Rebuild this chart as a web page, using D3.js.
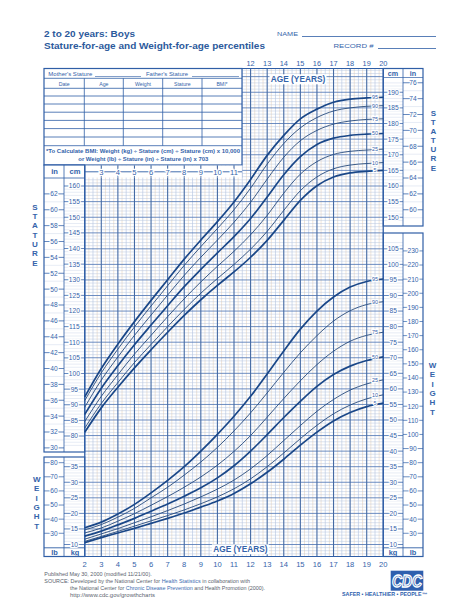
<!DOCTYPE html>
<html><head><meta charset="utf-8">
<script src="https://cdn.jsdelivr.net/npm/d3@7"></script>
<style>
html,body{margin:0;padding:0;background:#fff;}
svg{display:block;font-family:"Liberation Sans",Arial,Helvetica,sans-serif;}
</style></head><body>
<svg id="c" width="474" height="613"></svg>
<script>
// ---------------- DATA ----------------
const ages = [2,3,4,5,6,7,8,9,10,11,12,13,14,15,16,17,18,19,20];
const percentiles = [5,10,25,50,75,90,95];
// Stature-for-age (cm)
const statureP5  = [81.2,89.0,95.6,101.8,107.6,113.2,118.6,123.6,128.2,132.5,137.2,142.6,149.0,155.4,160.1,162.9,164.2,164.7,165.0];
const statureP10 = [82.5,90.4,97.1,103.5,109.3,115.0,120.5,125.7,130.4,134.9,139.8,145.5,152.2,158.5,162.9,165.5,166.7,167.2,167.5];
const statureP25 = [84.6,92.7,99.6,106.2,112.2,118.2,123.9,129.3,134.3,139.1,144.4,150.6,157.7,163.8,167.8,170.1,171.1,171.5,171.8];
const statureP50 = [86.9,95.3,102.5,109.2,115.5,121.7,127.8,133.3,138.6,143.8,149.6,156.5,163.6,169.4,173.3,175.3,176.2,176.6,176.8];
const statureP75 = [89.2,97.9,105.3,112.2,118.7,125.1,131.4,137.2,142.7,148.4,154.8,162.2,169.2,174.5,177.8,179.8,180.8,181.3,181.5];
const statureP90 = [91.3,100.2,107.8,114.9,121.6,128.1,134.6,140.6,146.4,152.4,159.3,167.0,173.6,178.6,181.9,184.0,185.0,185.5,185.7];
const statureP95 = [92.5,101.6,109.4,116.6,123.4,130.0,136.6,142.7,148.6,154.9,162.1,169.8,176.2,181.5,184.6,186.8,187.8,188.2,188.4];
// Weight-for-age (kg)
const weightP5  = [10.6,12.2,13.7,15.2,16.8,18.4,20.1,22.0,24.0,26.4,29.5,33.2,37.4,41.9,46.1,49.7,52.4,54.3,55.4];
const weightP10 = [11.0,12.6,14.2,15.9,17.6,19.3,21.1,23.1,25.3,27.9,31.1,35.0,39.4,44.0,48.3,52.0,54.8,56.8,58.1];
const weightP25 = [11.7,13.4,15.1,17.0,18.9,20.9,23.0,25.3,27.8,30.7,34.3,38.6,43.4,48.2,52.8,56.6,59.6,61.6,62.9];
const weightP50 = [12.7,14.3,16.3,18.4,20.7,23.0,25.5,28.2,31.4,35.3,40.0,45.3,50.8,56.0,60.8,64.6,67.3,69.1,70.3];
const weightP75 = [13.7,15.3,17.5,19.9,22.6,25.4,28.4,31.7,35.5,39.9,45.0,50.9,56.9,62.6,67.8,72.1,75.3,77.2,78.2];
const weightP90 = [14.7,16.4,18.8,21.6,25.0,28.4,32.3,36.5,41.2,46.5,52.3,58.7,65.3,71.6,77.1,81.8,85.1,87.1,88.0];
const weightP95 = [15.4,17.2,19.8,22.9,26.6,30.6,35.0,40.0,45.4,51.2,57.6,64.8,72.2,79.2,85.0,89.5,92.7,94.5,95.3];
// Tick labels
const topAgeTicks = [12,13,14,15,16,17,18,19,20];
const midAgeTicks = [3,4,5,6,7,8,9,10,11];
const bottomAgeTicks = [2,3,4,5,6,7,8,9,10,11,12,13,14,15,16,17,18,19,20];
const statCmLeft = [80,85,90,95,100,105,110,115,120,125,130,135,140,145,150,155,160];
const statInLeft = [30,32,34,36,38,40,42,44,46,48,50,52,54,56,58,60,62];
const statCmRight = [150,155,160,165,170,175,180,185,190];
const statInRight = [60,62,64,66,68,70,72,74,76];
const wtKgLeft = [10,15,20,25,30,35];
const wtLbLeft = [30,40,50,60,70,80];
const wtKgRight = [10,15,20,25,30,35,40,45,50,55,60,65,70,75,80,85,90,95,100,105];
const wtLbRight = [30,40,50,60,70,80,90,100,110,120,130,140,150,160,170,180,190,200,210,220,230];
const tableCols = ["Date","Age","Weight","Stature","BMI*"];

// ---------------- SETUP ----------------
const svg = d3.select('#c');
const BLUE = '#2f5ea6', TXT = '#3463aa';
const X0 = 84.7, X1 = 383.3, YT = 68.5, YB = 556.5;
const x = d3.scaleLinear().domain([2,20]).range([X0, X1]);
const yCm = d3.scaleLinear().domain([80,160]).range([436,186]);
const yKg = d3.scaleLinear().domain([10,50]).range([544.5,420]);
const yIn = v => yCm(v*2.54);
const yLb = v => yKg(v*0.45359237);

svg.append('defs').append('clipPath').attr('id','gclip')
  .append('rect').attr('x',X0).attr('y',YT).attr('width',X1-X0).attr('height',YB-YT);

// ---------------- GRID ----------------
const grid = svg.append('g').attr('clip-path','url(#gclip)');
function hline(g,y,xa,xb,c,w){g.append('line').attr('x1',xa).attr('x2',xb).attr('y1',y).attr('y2',y).attr('stroke',c).attr('stroke-width',w);}
function vline(g,xx,ya,yb,c,w){g.append('line').attr('x1',xx).attr('x2',xx).attr('y1',ya).attr('y2',yb).attr('stroke',c).attr('stroke-width',w);}
// minor verticals
d3.range(2,20,0.25).forEach(a=>{ const f=a%1; if(f) vline(grid,x(a),YT,YB,f===0.5?'#a8bbdc':'#e6cfb8',0.55); });
// minor horizontals
d3.range(143,198).forEach(v=>{ if(v%5) hline(grid,yCm(v),X0,X1,'#b8c6de',0.5); });
d3.range(7,108).forEach(v=>{ if(v%5) hline(grid,yKg(v),X0,X1,'#b8c6de',0.5); });
// major horizontals
d3.range(145,198,5).forEach(v=>hline(grid,yCm(v),X0,X1,'#5379b6',0.85));
d3.range(10,108,5).forEach(v=>hline(grid,yKg(v),X0,X1,'#5379b6',0.85));
// major verticals
d3.range(2,21,1).forEach(a=>vline(grid,x(a),YT,YB,'#456aa3',1.1));

// ---------------- TABLE ----------------
const tb = svg.append('g');
tb.append('rect').attr('x',44).attr('y',YT).attr('width',242-44).attr('height',165-YT).attr('fill','#fff').attr('stroke',BLUE).attr('stroke-width',1.2);
hline(tb,78.3,44,242,BLUE,0.8);
hline(tb,88.3,44,242,BLUE,0.8);
[96,104,112.2,120.4,128.6,137,145.7].forEach(y=>hline(tb,y,44,242,BLUE,0.8));
const colX=[44,84.3,123.3,162.7,202,242];
[84.3,123.3,162.7,202].forEach(xx=>vline(tb,xx,78.3,145.7,BLUE,0.8));
tableCols.forEach((t,i)=>tb.append('text').attr('x',(colX[i]+colX[i+1])/2).attr('y',85.8).attr('text-anchor','middle').attr('font-size',5.2).attr('fill',TXT).text(t));
tb.append('text').attr('x',48.3).attr('y',76.4).attr('font-size',5.2).attr('fill',TXT).attr('textLength',44).attr('lengthAdjust','spacingAndGlyphs').text("Mother's Stature");
hline(tb,76.5,95,141,BLUE,0.6);
tb.append('text').attr('x',146).attr('y',76.4).attr('font-size',5.2).attr('fill',TXT).attr('textLength',42).attr('lengthAdjust','spacingAndGlyphs').text("Father's Stature");
hline(tb,76.5,192,239,BLUE,0.6);
tb.append('text').attr('x',46).attr('y',152.6).attr('font-size',5.3).attr('font-weight','bold').attr('fill',TXT).attr('textLength',194).attr('lengthAdjust','spacingAndGlyphs').text("*To Calculate BMI: Weight (kg) \u00f7 Stature (cm) \u00f7 Stature (cm) x 10,000");
tb.append('text').attr('x',78.3).attr('y',161).attr('font-size',5.3).attr('font-weight','bold').attr('fill',TXT).attr('textLength',130).attr('lengthAdjust','spacingAndGlyphs').text("or Weight (lb) \u00f7 Stature (in) \u00f7 Stature (in) x 703");

// mid age row (3..11) on white band
svg.append('rect').attr('x',X0).attr('y',165.6).attr('width',242-X0).attr('height',12).attr('fill','#fff');
d3.range(2,12,1).forEach(a=>vline(svg,x(a),165.6,177.6,'#456aa3',1.1));
vline(svg,x(11.5),165.6,177.6,'#a8bbdc',0.55);
hline(svg,171.8,X0,242,BLUE,0.9);
midAgeTicks.forEach(a=>svg.append('text').attr('x',x(a)).attr('y',171.8).attr('dy','0.36em').attr('text-anchor','middle').attr('font-size',7.6).attr('fill',TXT).attr('stroke','#fff').attr('stroke-width',2.4).attr('paint-order','stroke').text(a));

// ---------------- FRAMES / SIDE COLUMNS ----------------
const fr = svg.append('g');
function box(xa,ya,xb,yb,w){fr.append('rect').attr('x',xa).attr('y',ya).attr('width',xb-xa).attr('height',yb-ya).attr('fill','none').attr('stroke',BLUE).attr('stroke-width',w);}
fr.append('rect').attr('x',44).attr('y',165).attr('width',X0-44).attr('height',452-165).attr('fill','#fff');
fr.append('rect').attr('x',44).attr('y',457).attr('width',X0-44).attr('height',YB-457).attr('fill','#fff');
fr.append('rect').attr('x',X1).attr('y',YT).attr('width',423-X1).attr('height',226-YT).attr('fill','#fff');
fr.append('rect').attr('x',X1).attr('y',233).attr('width',423-X1).attr('height',YB-233).attr('fill','#fff');
// faint lines in columns
d3.range(77,161).forEach(v=>{ if(yCm(v)<449 && yCm(v)>180) hline(fr,yCm(v),64,X0,'#cfd9ea',0.5); });
d3.range(30,63).forEach(v=>{ if(yIn(v)<449 && yIn(v)>180) hline(fr,yIn(v),44,64,'#cfd9ea',0.5); });
d3.range(148,195).forEach(v=>{ if(yCm(v)<222 && yCm(v)>80) hline(fr,yCm(v),X1,403,'#cfd9ea',0.5); });
d3.range(59,77).forEach(v=>{ if(yIn(v)<222 && yIn(v)>80) hline(fr,yIn(v),403,423,'#cfd9ea',0.5); });
d3.range(8,108).forEach(v=>{ if(yKg(v)<546 && yKg(v)>236) hline(fr,yKg(v),X1,403,'#cfd9ea',0.5); });
d3.range(8,38).forEach(v=>{ if(yKg(v)<546 && yKg(v)>459) hline(fr,yKg(v),64,X0,'#cfd9ea',0.5); });

box(44,165,X0,452,1.2); box(44,457,X0,YB,1.2);
vline(fr,64,165,452,BLUE,0.8); vline(fr,64,457,YB,BLUE,0.8);
hline(fr,178,44,X0,BLUE,0.8);
hline(fr,547.8,44,X0,BLUE,0.9);
box(X1,YT,423,226,1.2); box(X1,233,423,YB,1.2);
vline(fr,403,YT,226,BLUE,0.8); vline(fr,403,233,YB,BLUE,0.8);
hline(fr,547.8,X1,423,BLUE,0.9);
hline(fr,77.5,X1,423,BLUE,0.7);
fr.append('line').attr('x1',242).attr('x2',X1).attr('y1',YT).attr('y2',YT).attr('stroke',BLUE).attr('stroke-width',1.2);
fr.append('line').attr('x1',X0).attr('x2',X1).attr('y1',YB).attr('y2',YB).attr('stroke',BLUE).attr('stroke-width',1.2);
vline(fr,X0,165,YB,BLUE,1.1); vline(fr,X1,YT,YB,BLUE,1.1);

function lab(g,xx,y,t,size,bold,anchor){return g.append('text').attr('x',xx).attr('y',y).attr('dy','0.36em').attr('text-anchor',anchor||'middle').attr('font-size',size).attr('font-weight',bold?'bold':'normal').attr('fill',TXT).text(t);}
function colTicks(vals,yfn,xa,xb){
  vals.forEach(v=>{
    const y=yfn(v);
    hline(fr,y,xa,xb,BLUE,0.7);
    lab(fr,(xa+xb)/2,y,v,6.6,false).attr('stroke','#fff').attr('stroke-width',2.2).attr('paint-order','stroke');
  });
}
colTicks(statCmLeft,yCm,64,X0);
colTicks(statInLeft,yIn,44,64);
colTicks(statCmRight,yCm,X1,403);
colTicks(statInRight,yIn,403,423);
colTicks(wtKgLeft,yKg,64,X0);
colTicks(wtLbLeft,yLb,44,64);
colTicks(wtKgRight,yKg,X1,403);
colTicks(wtLbRight,yLb,403,423);

lab(fr,54.5,171.6,'in',7.6,true); lab(fr,75,171.6,'cm',7.6,true);
lab(fr,393,73.5,'cm',7.2,true); lab(fr,413,73.5,'in',7.2,true);
lab(fr,54.5,552.3,'lb',7.4,true); lab(fr,75,552.3,'kg',7.4,true);
lab(fr,393,552.3,'kg',7.4,true); lab(fr,413,552.3,'lb',7.4,true);

// ---------------- CURVES ----------------
const cg = svg.append('g');
const statSeries = [statureP5,statureP10,statureP25,statureP50,statureP75,statureP90,statureP95];
const wtSeries = [weightP5,weightP10,weightP25,weightP50,weightP75,weightP90,weightP95];
const lineCm = d3.line().x(d=>x(d[0])).y(d=>yCm(d[1])).curve(d3.curveMonotoneX);
const lineKg = d3.line().x(d=>x(d[0])).y(d=>yKg(d[1])).curve(d3.curveMonotoneX);
function drawSet(series,lineFn,yfn){
  series.forEach((vals,i)=>{
    const p=percentiles[i]; const thick=(p===5||p===50||p===95);
    cg.append('path').attr('d',lineFn(ages.map((a,j)=>[a,vals[j]]))).attr('fill','none')
      .attr('stroke',thick?'#1a4788':'#26497c').attr('stroke-width',thick?1.7:0.9);
  });
  series.forEach((vals,i)=>{
    const y=yfn(vals[vals.length-1]);
    cg.append('text').attr('x',375).attr('y',y).attr('dy','0.36em').attr('text-anchor','middle')
      .attr('font-size',5.4).attr('fill',TXT).attr('stroke','#fff').attr('stroke-width',2).attr('paint-order','stroke').text(percentiles[i]);
  });
}
drawSet(statSeries,lineCm,yCm);
drawSet(wtSeries,lineKg,yKg);

// ---------------- AGE LABELS ----------------
topAgeTicks.forEach(a=>lab(svg,x(a),63.3,a,7.4,false));
bottomAgeTicks.forEach(a=>lab(svg,x(a),564.3,a,7.6,false));
function ageTitle(cx,cy){
  svg.append('rect').attr('x',cx-28.5).attr('y',cy-5).attr('width',57).attr('height',10).attr('fill','#fff');
  svg.append('text').attr('x',cx-27.2).attr('y',cy).attr('dy','0.36em').attr('font-size',8.6).attr('font-weight','bold').attr('fill',TXT)
    .attr('textLength',54.4).attr('lengthAdjust','spacingAndGlyphs').text('AGE (YEARS)');
}
ageTitle(298,79.3);
ageTitle(240.4,549.3);

// ---------------- VERTICAL WORDS ----------------
function vword(word,xx,y0,step){word.split('').forEach((ch,i)=>lab(svg,xx,y0+i*step,ch,8,true));}
vword('STATURE',35,206.7,9.33);
vword('STATURE',433.3,112.7,9.17);
vword('WEIGHT',432.5,365,9.34);
vword('WEIGHT',36.7,479,9.4);

// ---------------- HEADER ----------------
svg.append('text').attr('x',44).attr('y',37).attr('font-size',9.6).attr('font-weight','bold').attr('fill','#2c5a9c').attr('textLength',91).attr('lengthAdjust','spacingAndGlyphs').text('2 to 20 years: Boys');
svg.append('text').attr('x',44).attr('y',48.8).attr('font-size',9.6).attr('font-weight','bold').attr('fill','#2c5a9c').attr('textLength',221).attr('lengthAdjust','spacingAndGlyphs').text('Stature-for-age and Weight-for-age percentiles');
svg.append('text').attr('x',277).attr('y',36).attr('font-size',6).attr('fill',TXT).attr('textLength',21).attr('lengthAdjust','spacingAndGlyphs').text('NAME');
hline(svg,36.5,302,436,BLUE,0.8);
svg.append('text').attr('x',333.5).attr('y',48).attr('font-size',6).attr('fill',TXT).attr('textLength',40).attr('lengthAdjust','spacingAndGlyphs').text('RECORD #');
hline(svg,48.5,378,436,BLUE,0.8);

// ---------------- FOOTER ----------------
const GR='#5a5f6e', FB='#3a6ab0';
svg.append('text').attr('x',44.3).attr('y',576.2).attr('font-size',5.1).attr('fill',GR).attr('textLength',107.4).attr('lengthAdjust','spacingAndGlyphs').text('Published May 30, 2000 (modified 11/21/00).');
const s1=svg.append('text').attr('x',44.3).attr('y',583).attr('font-size',5.1).attr('fill',GR).attr('textLength',205.7).attr('lengthAdjust','spacingAndGlyphs');
s1.append('tspan').text('SOURCE: Developed by the National Center for ');
s1.append('tspan').attr('fill',FB).text('Health Statistics');
s1.append('tspan').text(' in collaboration with');
const s2=svg.append('text').attr('x',70).attr('y',590).attr('font-size',5.1).attr('fill',GR).attr('textLength',195).attr('lengthAdjust','spacingAndGlyphs');
s2.append('tspan').text('the National Center for ');
s2.append('tspan').attr('fill',FB).text('Chronic Disease Prevention');
s2.append('tspan').text(' and Health Promotion (2000).');
svg.append('text').attr('x',70).attr('y',596.6).attr('font-size',5.1).attr('fill',GR).attr('textLength',85).attr('lengthAdjust','spacingAndGlyphs').text('http://www.cdc.gov/growthcharts');

// CDC logo
const lg=svg.append('g');
lg.append('rect').attr('x',390.7).attr('y',570.7).attr('width',32.6).attr('height',20).attr('fill','#2f5fae');
lg.append('text').attr('x',407).attr('y',586.5).attr('text-anchor','middle').attr('font-size',16).attr('font-weight','bold').attr('font-style','italic')
  .attr('fill','#2f5fae').attr('stroke','#fff').attr('stroke-width',1.3).attr('textLength',30).attr('lengthAdjust','spacingAndGlyphs').text('CDC');
lg.append('text').attr('x',342).attr('y',596.3).attr('font-size',4.6).attr('font-weight','bold').attr('fill','#2f5fae').attr('textLength',85).attr('lengthAdjust','spacingAndGlyphs').text('SAFER \u2022 HEALTHIER \u2022 PEOPLE\u2122');
</script>
</body></html>
